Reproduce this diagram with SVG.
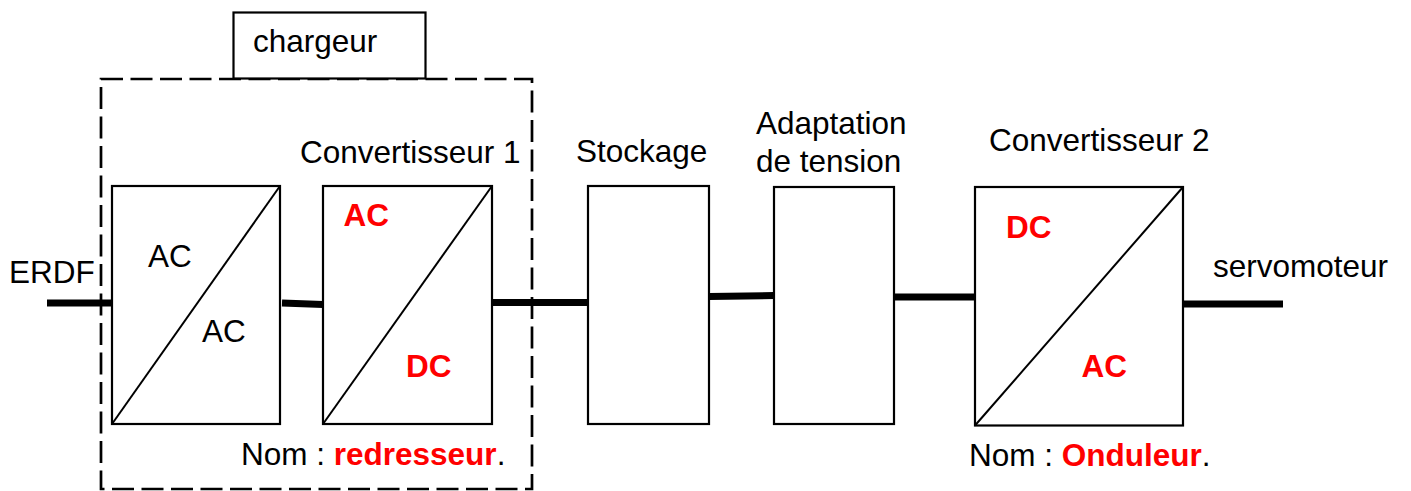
<svg xmlns="http://www.w3.org/2000/svg" width="1411" height="491" viewBox="0 0 1411 491">
<style>
text{font-family:"Liberation Sans",Arial,sans-serif;font-size:31.5px;fill:#000}
.b{font-weight:bold;fill:#ff0000}
.box{fill:#fff;stroke:#000;stroke-width:2.2}
.diag{stroke:#000;stroke-width:2;fill:none}
.wire{stroke:#000;stroke-width:7;fill:none}
</style>
<rect width="1411" height="491" fill="#fff"/>
<g id="connectors">
<line class="wire" x1="47" y1="303" x2="112" y2="303"/>
<line class="wire" x1="282" y1="303" x2="323" y2="304.5"/>
<line class="wire" x1="492" y1="302.5" x2="587" y2="302.5"/>
<line class="wire" x1="709" y1="296.5" x2="774" y2="295.5"/>
<line class="wire" x1="894" y1="297" x2="975" y2="297"/>
<line class="wire" x1="1183" y1="304" x2="1283" y2="304"/>
</g>
<g id="chargeur">
<rect x="101" y="79" width="431" height="410" fill="none" stroke="#000" stroke-width="2.7" stroke-dasharray="22,7.5"/>
<rect class="box" x="233.5" y="12.5" width="192" height="66"/>
<text x="253" y="51.5">chargeur</text>
</g>
<g id="erdf"><text x="9" y="282.5">ERDF</text></g>
<g id="acac">
<rect class="box" x="112" y="186" width="168" height="238"/>
<line class="diag" x1="112" y1="424" x2="280" y2="186"/>
<text x="148" y="266.5">AC</text>
<text x="202" y="342">AC</text>
</g>
<g id="convertisseur1">
<text x="300" y="162.5">Convertisseur 1</text>
<rect class="box" x="323" y="186" width="169" height="238"/>
<line class="diag" x1="323" y1="424" x2="492" y2="186"/>
<text class="b" x="343.5" y="225.5">AC</text>
<text class="b" x="406" y="376.5">DC</text>
<text x="241" y="465">Nom : <tspan class="b">redresseur</tspan>.</text>
</g>
<g id="stockage">
<text x="576" y="161.5">Stockage</text>
<rect class="box" x="588" y="186" width="121" height="238"/>
</g>
<g id="adaptation">
<text x="756" y="134">Adaptation</text>
<text x="756" y="171.5">de tension</text>
<rect class="box" x="774" y="187" width="120" height="237"/>
</g>
<g id="convertisseur2">
<text x="989" y="151">Convertisseur 2</text>
<rect class="box" x="975" y="187" width="208" height="238.5"/>
<line class="diag" x1="975" y1="425.5" x2="1183" y2="187"/>
<text class="b" x="1006" y="238">DC</text>
<text class="b" x="1081.5" y="376.5">AC</text>
<text x="969" y="465.5">Nom : <tspan class="b">Onduleur</tspan>.</text>
</g>
<g id="servomoteur"><text x="1213" y="277">servomoteur</text></g>
</svg>
